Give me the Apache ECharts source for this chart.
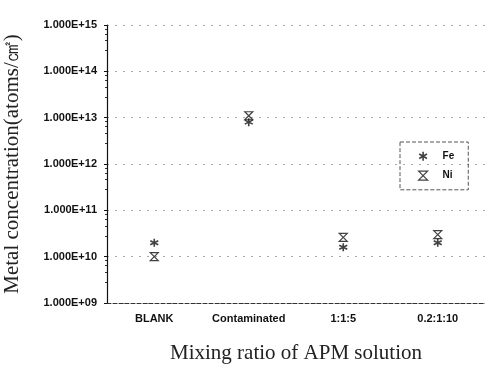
<!DOCTYPE html>
<html><head><meta charset="utf-8">
<script src="https://cdn.jsdelivr.net/npm/echarts@6/dist/echarts.min.js"></script>
<style>html,body{margin:0;padding:0;background:#fff}#c{width:485px;height:369px}</style>
</head><body><div id="c"></div>
<script>
const categories = ['BLANK', 'Contaminated', '1:1:5', '0.2:1:10'];
const feValues = [2e10, 8e12, 1.6e10, 2e10];
const niValues = [1e10, 1.1e13, 2.6e10, 3e10];
const yMin = 1e9, yMax = 1e15;

const asterisk = 'path://M5,0 L5,10 M0.7,2.5 L9.3,7.5 M0.7,7.5 L9.3,2.5';
const hourglass = 'path://M0,0 L10,0 L0,10 L10,10 Z';

const chart = echarts.init(document.getElementById('c'));
chart.setOption({
  animation: false,
  backgroundColor: '#fff',
  grid: { left: 107, top: 25, right: 0, bottom: 66, outerBoundsMode: 'none', containLabel: false },
  legend: {
    orient: 'vertical', left: 400, top: 142,
    padding: [9, 14, 9, 18], itemGap: 9, itemWidth: 9, itemHeight: 9,
    borderColor: '#555', borderWidth: 1, borderType: 'dashed',
    textStyle: { fontFamily: 'Liberation Sans', fontWeight: 'bold', fontSize: 10, color: '#111', padding: [0, 0, 0, 10] },
    data: [
      { name: 'Fe', icon: asterisk, itemStyle: { color: '#111', borderColor: '#111', borderWidth: 1.6 } },
      { name: 'Ni', icon: hourglass, itemStyle: { color: 'rgba(0,0,0,0)', borderColor: '#111', borderWidth: 1.2 } }
    ]
  },
  xAxis: {
    type: 'category', data: categories, boundaryGap: true,
    name: 'Mixing ratio of APM solution', nameLocation: 'middle', nameGap: 40,
    nameTextStyle: { fontFamily: 'Liberation Serif', fontSize: 21, color: '#222' },
    axisLine: { lineStyle: { color: '#333', type: 'dashed', width: 1 } },
    axisTick: { show: false },
    axisLabel: { interval: 0, hideOverlap: false, margin: 10, fontFamily: 'Liberation Sans', fontWeight: 'bold', fontSize: 11, color: '#111' },
    splitLine: { show: false }
  },
  yAxis: {
    type: 'log', logBase: 10, min: yMin, max: yMax,
    name: 'Metal concentration(atoms/㎠)', nameLocation: 'middle', nameGap: 84, nameRotate: 90,
    nameTextStyle: { fontFamily: 'Liberation Serif', fontSize: 21, color: '#222' },
    axisLine: { show: true, lineStyle: { color: '#111', width: 1.2 } },
    axisTick: { show: true, inside: false, length: 3, lineStyle: { color: '#111' } },
    minorTick: { show: true, splitNumber: 5, length: 2, lineStyle: { color: '#333' } },
    axisLabel: {
      margin: 10, fontFamily: 'Liberation Sans', fontWeight: 'bold', fontSize: 11, color: '#111',
      formatter: v => { const e = Math.round(Math.log10(v)); return '1.000E+' + (e < 10 ? '0' + e : e); }
    },
    splitLine: { show: true, lineStyle: { color: '#aaa', type: [2, 6], width: 1 } }
  },
  series: [
    { name: 'Fe', type: 'scatter', data: feValues, symbol: asterisk, symbolSize: 8,
      itemStyle: { color: '#111', borderColor: '#111', borderWidth: 1.6 }, z: 3 },
    { name: 'Ni', type: 'scatter', data: niValues, symbol: hourglass, symbolSize: 8,
      itemStyle: { color: 'rgba(0,0,0,0)', borderColor: '#111', borderWidth: 1.2 }, z: 2 }
  ]
});
</script></body></html>
